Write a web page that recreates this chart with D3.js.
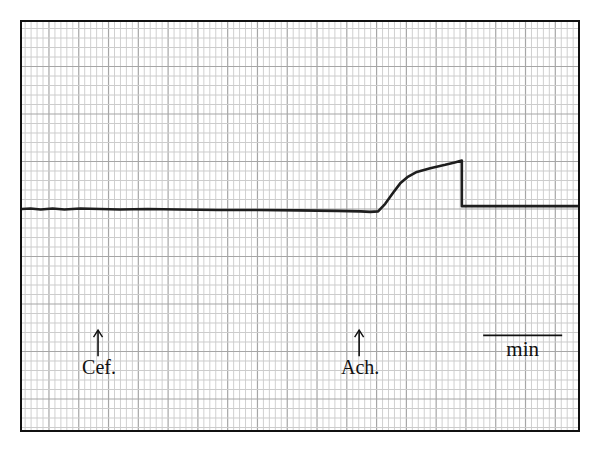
<!DOCTYPE html>
<html>
<head>
<meta charset="utf-8">
<script src="https://cdn.jsdelivr.net/npm/d3@7"></script>
<style>
  html, body { margin: 0; padding: 0; background: #fff; }
  svg { display: block; }
</style>
</head>
<body>
<svg id="chart" width="600" height="452"></svg>
<script>
// ---- data (time in min, tension in arbitrary units; baseline = 0) ----
const traceTime  = [0.01, 0.12, 0.25, 0.40, 0.55, 0.75, 1.00, 1.25, 1.60, 2.00, 2.50, 3.00, 3.50, 4.00, 4.30, 4.42, 4.52, 4.61, 4.71, 4.80, 4.89, 5.01, 5.18, 5.37, 5.49, 5.58, 5.58, 7.05];
const traceValue = [0.00, 0.01, -0.01, 0.01, -0.01, 0.01, 0.00, -0.01, 0.00, -0.01, -0.02, -0.02, -0.03, -0.04, -0.05, -0.06, -0.05, 0.11, 0.34, 0.54, 0.67, 0.78, 0.86, 0.93, 0.98, 1.02, 0.06, 0.06];
const eventLabels = ["Cef.", "Ach."];
const eventTimes  = [0.975, 4.28];
const scaleBarLabel = "min";
const scaleBarStart = 5.85;
const scaleBarLength = 1;   // 1 min

// ---- layout ----
const svg = d3.select("#chart");
const L = 21, R = 579, T = 21, B = 431;
const x = d3.scaleLinear().domain([0, 7.063]).range([L, R]);
const y = d3.scaleLinear().domain([-4.674, 3.958]).range([B, T]);

svg.append("clipPath").attr("id", "c")
  .append("rect").attr("x", L).attr("y", T).attr("width", R - L).attr("height", B - T);

const grid = svg.append("g").attr("clip-path", "url(#c)");

// chart-paper grid: vertical minor every 0.0754 min, major every 5
const xMajor = 0.377, xOff = -0.023;
const vLines = d3.range(0, 100).map(i => ({ t: xOff + i * xMajor / 5, major: i % 5 === 0 }))
  .filter(d => d.t <= 7.1);
const hLines = d3.range(-25, 21).map(i => ({ v: i * 0.2, major: i % 5 === 0 }));

grid.selectAll("line.v").data(vLines).join("line")
  .attr("x1", d => x(d.t)).attr("x2", d => x(d.t))
  .attr("y1", T).attr("y2", B)
  .attr("stroke", d => d.major ? "#a6a6a6" : "#d0d0d0")
  .attr("stroke-width", d => d.major ? 1.2 : 1);
grid.selectAll("line.h").data(hLines).join("line")
  .attr("y1", d => y(d.v)).attr("y2", d => y(d.v))
  .attr("x1", L).attr("x2", R)
  .attr("stroke", d => d.major ? "#a6a6a6" : "#cccccc")
  .attr("stroke-width", d => d.major ? 1.2 : 1);

// trace
const pts = traceTime.map((t, i) => [t, traceValue[i]]);
svg.append("path")
  .datum(pts)
  .attr("clip-path", "url(#c)")
  .attr("fill", "none")
  .attr("stroke", "#1e1e1e")
  .attr("stroke-width", 2.6)
  .attr("stroke-linejoin", "round")
  .attr("d", d3.line().x(d => x(d[0])).y(d => y(d[1])));

// event arrows + labels
const ev = svg.append("g");
eventTimes.forEach((t, i) => {
  const cx = x(t);
  const tip = y(-2.55), bot = y(-3.1);
  ev.append("line").attr("x1", cx).attr("x2", cx).attr("y1", tip).attr("y2", bot)
    .attr("stroke", "#111").attr("stroke-width", 1.6);
  ev.append("path")
    .attr("d", `M${cx - 4.5},${tip + 7} L${cx},${tip} L${cx + 4.5},${tip + 7}`)
    .attr("fill", "none").attr("stroke", "#111").attr("stroke-width", 1.4);
  ev.append("text").attr("x", cx + 1).attr("y", y(-3.47))
    .attr("text-anchor", "middle")
    .attr("font-family", "Liberation Serif, DejaVu Serif, serif")
    .attr("font-size", 20).attr("fill", "#111")
    .text(eventLabels[i]);
});

// scale bar
svg.append("line")
  .attr("x1", x(scaleBarStart)).attr("x2", x(scaleBarStart + scaleBarLength))
  .attr("y1", y(-2.66)).attr("y2", y(-2.66))
  .attr("stroke", "#111").attr("stroke-width", 1.6);
svg.append("text")
  .attr("x", x(scaleBarStart + scaleBarLength / 2)).attr("y", y(-3.1))
  .attr("text-anchor", "middle")
  .attr("font-family", "Liberation Serif, DejaVu Serif, serif")
  .attr("font-size", 21).attr("fill", "#111")
  .text(scaleBarLabel);

// frame
svg.append("rect").attr("x", L).attr("y", T).attr("width", R - L).attr("height", B - T)
  .attr("fill", "none").attr("stroke", "#111").attr("stroke-width", 2);
</script>
</body>
</html>
